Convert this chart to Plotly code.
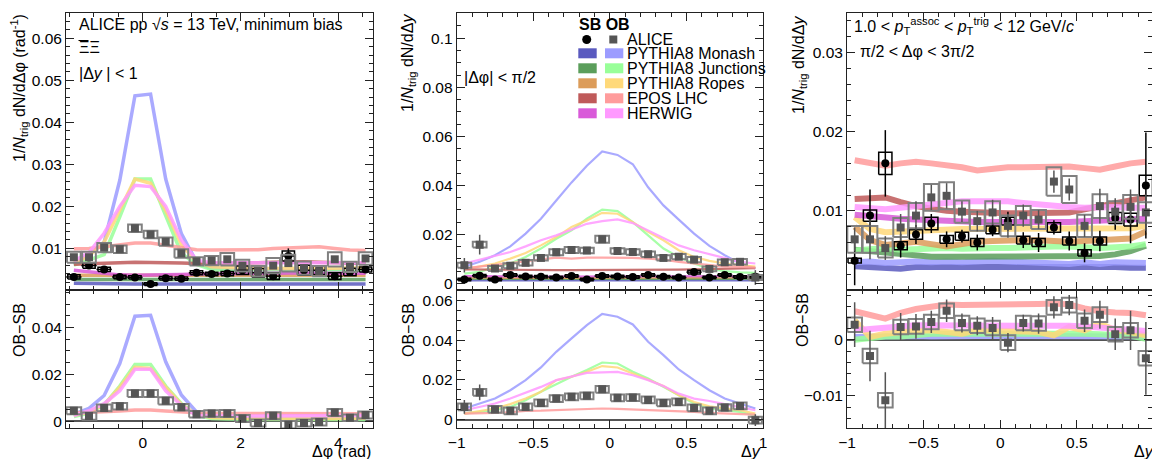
import plotly.graph_objects as go

# ---------------- data ----------------
dphi = [-1.41, -1.10, -0.79, -0.47, -0.16, 0.16, 0.47, 0.79, 1.10, 1.41,
        1.73, 2.04, 2.36, 2.67, 2.98, 3.30, 3.61, 3.93, 4.24, 4.56]
dy = [-0.95, -0.85, -0.75, -0.65, -0.55, -0.45, -0.35, -0.25, -0.15, -0.05,
      0.05, 0.15, 0.25, 0.35, 0.45, 0.55, 0.65, 0.75, 0.85, 0.95]

models = ["PYTHIA8 Monash", "PYTHIA8 Junctions", "PYTHIA8 Ropes", "EPOS LHC", "HERWIG"]
sb_colors = ["#5a5abf", "#5b9e5b", "#dc9c5a", "#bf5a5a", "#d95ad9"]
ob_colors = ["#9c9cff", "#99ff99", "#ffd97a", "#ff9c9c", "#ff99ff"]

# ---- left panel: |dy|<1, vs dphi ----
L_sb = [0.0032, 0.0059, 0.0050, 0.0032, 0.0031, 0.0015, 0.0029, 0.0028, 0.0042, 0.0039,
        0.0040, 0.0048, 0.0042, 0.0034, 0.0082, 0.0048, 0.0048, 0.0034, 0.0044, 0.0050]
L_sb_stat = [0.0003, 0.0004, 0.0004, 0.0003, 0.0003, 0.0008, 0.0003, 0.0003, 0.0003, 0.0003,
             0.0004, 0.0005, 0.0005, 0.0004, 0.0018, 0.0006, 0.0006, 0.0004, 0.0005, 0.0005]
L_sb_sys = [0.0005, 0.0006, 0.0005, 0.0004, 0.0004, 0.0003, 0.0004, 0.0004, 0.0005, 0.0004,
            0.0005, 0.0010, 0.0010, 0.0008, 0.0012, 0.0012, 0.0010, 0.0008, 0.0009, 0.0006]
L_ob = [0.0079, 0.0079, 0.0102, 0.0098, 0.0148, 0.0133, 0.0116, 0.0088, 0.0069, 0.0071,
        0.0074, 0.0059, 0.0046, 0.0059, 0.0065, 0.0053, 0.0046, 0.0074, 0.0056, 0.0076]
L_ob_stat = [0.0004, 0.0004, 0.0004, 0.0004, 0.0005, 0.0005, 0.0004, 0.0004, 0.0004, 0.0004,
             0.0005, 0.0005, 0.0005, 0.0006, 0.0007, 0.0006, 0.0006, 0.0006, 0.0006, 0.0006]
L_ob_sys = [0.0013, 0.0013, 0.0011, 0.0009, 0.0009, 0.0009, 0.0010, 0.0010, 0.0010, 0.0011,
            0.0015, 0.0014, 0.0012, 0.0018, 0.0020, 0.0016, 0.0012, 0.0017, 0.0012, 0.0015]
L_d = [0.0045, 0.0022, 0.0057, 0.0064, 0.0118, 0.0118, 0.0087, 0.0060, 0.0030, 0.0033,
       0.0033, 0.0012, -0.0007, 0.0024, -0.0015, -0.0007, -0.0003, 0.0037, 0.0015, 0.0027]
L_d_stat = [0.0005, 0.0005, 0.0005, 0.0005, 0.0006, 0.0006, 0.0005, 0.0005, 0.0005, 0.0005,
            0.0005, 0.0006, 0.0006, 0.0006, 0.0008, 0.0006, 0.0006, 0.0006, 0.0006, 0.0006]
L_d_sys = [0.0015, 0.0015, 0.0014, 0.0014, 0.0015, 0.0015, 0.0015, 0.0014, 0.0014, 0.0014,
           0.0015, 0.0015, 0.0015, 0.0015, 0.0016, 0.0015, 0.0015, 0.0015, 0.0014, 0.0015]

L_ob_models = [
    [0.0062, 0.0085, 0.0115, 0.0262, 0.0463, 0.0467, 0.0265, 0.0135, 0.0068, 0.0052,
     0.0050, 0.0048, 0.0047, 0.0047, 0.0048, 0.0048, 0.0047, 0.0048, 0.0048, 0.0050],
    [0.0060, 0.0072, 0.0085, 0.0175, 0.0265, 0.0265, 0.0180, 0.0088, 0.0062, 0.0050,
     0.0047, 0.0045, 0.0044, 0.0044, 0.0045, 0.0045, 0.0044, 0.0045, 0.0045, 0.0046],
    [0.0065, 0.0082, 0.0115, 0.0190, 0.0265, 0.0255, 0.0190, 0.0110, 0.0068, 0.0056,
     0.0054, 0.0053, 0.0052, 0.0052, 0.0053, 0.0053, 0.0052, 0.0053, 0.0053, 0.0054],
    [0.0099, 0.0100, 0.0104, 0.0108, 0.0113, 0.0113, 0.0108, 0.0103, 0.0097, 0.0096,
     0.0096, 0.0095, 0.0097, 0.0100, 0.0102, 0.0104, 0.0104, 0.0100, 0.0096, 0.0095],
    [0.0070, 0.0090, 0.0136, 0.0200, 0.0250, 0.0247, 0.0200, 0.0120, 0.0072, 0.0066,
     0.0066, 0.0066, 0.0066, 0.0066, 0.0068, 0.0068, 0.0066, 0.0066, 0.0066, 0.0066],
]
L_sb_models = [
    [0.0017, 0.0016, 0.0016, 0.0015, 0.0015, 0.0015, 0.0015, 0.0015, 0.0016, 0.0016,
     0.0016, 0.0016, 0.0016, 0.0016, 0.0016, 0.0016, 0.0016, 0.0015, 0.0015, 0.0015],
    [0.0026, 0.0026, 0.0025, 0.0025, 0.0025, 0.0025, 0.0025, 0.0025, 0.0025, 0.0025,
     0.0025, 0.0025, 0.0025, 0.0025, 0.0025, 0.0025, 0.0025, 0.0025, 0.0026, 0.0026],
    [0.0036, 0.0036, 0.0035, 0.0035, 0.0035, 0.0035, 0.0035, 0.0035, 0.0035, 0.0036,
     0.0036, 0.0036, 0.0036, 0.0036, 0.0036, 0.0036, 0.0036, 0.0036, 0.0036, 0.0036],
    [0.0062, 0.0064, 0.0065, 0.0066, 0.0067, 0.0067, 0.0066, 0.0065, 0.0064, 0.0064,
     0.0064, 0.0065, 0.0066, 0.0067, 0.0068, 0.0068, 0.0067, 0.0066, 0.0065, 0.0064],
    [0.0048, 0.0044, 0.0040, 0.0037, 0.0036, 0.0036, 0.0037, 0.0038, 0.0039, 0.0040,
     0.0040, 0.0041, 0.0041, 0.0041, 0.0042, 0.0042, 0.0041, 0.0041, 0.0041, 0.0041],
]
L_d_models = [
    [0.0030, 0.0055, 0.0110, 0.0246, 0.0448, 0.0452, 0.0254, 0.0112, 0.0040, 0.0018,
     0.0015, 0.0012, 0.0012, 0.0012, 0.0012, 0.0012, 0.0012, 0.0012, 0.0012, 0.0013],
    [0.0020, 0.0035, 0.0070, 0.0150, 0.0242, 0.0242, 0.0150, 0.0075, 0.0025, 0.0012,
     0.0010, 0.0008, 0.0008, 0.0008, 0.0008, 0.0008, 0.0008, 0.0008, 0.0008, 0.0008],
    [0.0025, 0.0040, 0.0070, 0.0145, 0.0230, 0.0225, 0.0145, 0.0072, 0.0028, 0.0016,
     0.0014, 0.0012, 0.0012, 0.0012, 0.0013, 0.0013, 0.0012, 0.0012, 0.0012, 0.0013],
    [0.0035, 0.0037, 0.0040, 0.0044, 0.0048, 0.0048, 0.0044, 0.0040, 0.0035, 0.0033,
     0.0033, 0.0033, 0.0033, 0.0034, 0.0035, 0.0035, 0.0034, 0.0034, 0.0032, 0.0032],
    [0.0024, 0.0045, 0.0075, 0.0130, 0.0222, 0.0222, 0.0130, 0.0068, 0.0025, 0.0022,
     0.0022, 0.0022, 0.0022, 0.0022, 0.0023, 0.0024, 0.0024, 0.0024, 0.0024, 0.0025],
]

# ---- middle panel: |dphi|<pi/2, vs dy ----
M_sb = [0.0016, 0.0031, 0.0016, 0.0034, 0.0028, 0.0027, 0.0024, 0.0030, 0.0016, 0.0030,
        0.0028, 0.0026, 0.0034, 0.0027, 0.0024, 0.0046, 0.0024, 0.0034, 0.0026, 0.0027]
M_sb_stat = [0.0015, 0.0005, 0.0005, 0.0005, 0.0005, 0.0005, 0.0005, 0.0005, 0.0005, 0.0005,
             0.0005, 0.0005, 0.0005, 0.0005, 0.0005, 0.0008, 0.0005, 0.0005, 0.0005, 0.0006]
M_sb_sys = [0.0005, 0.0005, 0.0005, 0.0005, 0.0005, 0.0005, 0.0005, 0.0005, 0.0005, 0.0005,
            0.0005, 0.0005, 0.0005, 0.0005, 0.0005, 0.0008, 0.0005, 0.0005, 0.0005, 0.0005]
M_ob = [0.0074, 0.0158, 0.0061, 0.0072, 0.0084, 0.0104, 0.0127, 0.0136, 0.0134, 0.0180,
        0.0132, 0.0128, 0.0119, 0.0104, 0.0109, 0.0097, 0.0059, 0.0086, 0.0088, 0.0024]
M_ob_stat = [0.0030, 0.0040, 0.0010, 0.0010, 0.0010, 0.0010, 0.0010, 0.0010, 0.0010, 0.0012,
             0.0010, 0.0010, 0.0010, 0.0010, 0.0010, 0.0010, 0.0010, 0.0010, 0.0012, 0.0030]
M_ob_sys = [0.0010, 0.0012, 0.0010, 0.0010, 0.0011, 0.0011, 0.0012, 0.0012, 0.0011, 0.0014,
            0.0011, 0.0011, 0.0011, 0.0011, 0.0011, 0.0011, 0.0010, 0.0011, 0.0011, 0.0010]
M_d = [0.0064, 0.0137, 0.0051, 0.0044, 0.0064, 0.0084, 0.0106, 0.0115, 0.0120, 0.0153,
       0.0110, 0.0111, 0.0099, 0.0084, 0.0089, 0.0059, 0.0044, 0.0061, 0.0069, -0.0003]
M_d_stat = [0.0035, 0.0040, 0.0010, 0.0010, 0.0010, 0.0010, 0.0010, 0.0010, 0.0010, 0.0012,
            0.0010, 0.0010, 0.0010, 0.0010, 0.0010, 0.0010, 0.0010, 0.0010, 0.0012, 0.0030]
M_d_sys = [0.0017, 0.0017, 0.0017, 0.0017, 0.0017, 0.0017, 0.0017, 0.0017, 0.0017, 0.0017,
           0.0017, 0.0017, 0.0017, 0.0017, 0.0017, 0.0017, 0.0017, 0.0017, 0.0017, 0.0017]

M_ob_models = [
    [0.0068, 0.0088, 0.0115, 0.0151, 0.0203, 0.0264, 0.0338, 0.0412, 0.0480, 0.0538,
     0.0524, 0.0486, 0.0392, 0.0318, 0.0260, 0.0203, 0.0153, 0.0115, 0.0081, 0.0061],
    [0.0040, 0.0047, 0.0068, 0.0081, 0.0108, 0.0142, 0.0182, 0.0216, 0.0264, 0.0301,
     0.0295, 0.0250, 0.0196, 0.0142, 0.0108, 0.0081, 0.0060, 0.0050, 0.0045, 0.0043],
    [0.0057, 0.0068, 0.0081, 0.0101, 0.0124, 0.0155, 0.0189, 0.0230, 0.0257, 0.0288,
     0.0284, 0.0250, 0.0210, 0.0176, 0.0135, 0.0108, 0.0092, 0.0081, 0.0074, 0.0068],
    [0.0061, 0.0068, 0.0074, 0.0081, 0.0088, 0.0097, 0.0105, 0.0101, 0.0105, 0.0105,
     0.0105, 0.0104, 0.0101, 0.0097, 0.0088, 0.0081, 0.0074, 0.0068, 0.0068, 0.0064],
    [0.0081, 0.0097, 0.0111, 0.0128, 0.0151, 0.0176, 0.0196, 0.0219, 0.0243, 0.0254,
     0.0261, 0.0246, 0.0216, 0.0186, 0.0155, 0.0135, 0.0119, 0.0101, 0.0088, 0.0081],
]
M_sb_models = [
    [0.0012, 0.0012, 0.0012, 0.0012, 0.0012, 0.0012, 0.0012, 0.0012, 0.0012, 0.0012,
     0.0012, 0.0012, 0.0012, 0.0012, 0.0012, 0.0012, 0.0012, 0.0012, 0.0012, 0.0012],
    [0.0018, 0.0018, 0.0018, 0.0018, 0.0018, 0.0018, 0.0018, 0.0018, 0.0018, 0.0018,
     0.0018, 0.0018, 0.0018, 0.0018, 0.0018, 0.0018, 0.0018, 0.0018, 0.0018, 0.0018],
    [0.0024, 0.0023, 0.0022, 0.0022, 0.0022, 0.0022, 0.0022, 0.0022, 0.0022, 0.0022,
     0.0022, 0.0022, 0.0022, 0.0022, 0.0022, 0.0022, 0.0022, 0.0022, 0.0023, 0.0024],
    [0.0057, 0.0056, 0.0056, 0.0055, 0.0055, 0.0054, 0.0054, 0.0054, 0.0054, 0.0053,
     0.0053, 0.0054, 0.0054, 0.0055, 0.0056, 0.0057, 0.0058, 0.0060, 0.0061, 0.0062],
    [0.0030, 0.0029, 0.0028, 0.0028, 0.0028, 0.0028, 0.0028, 0.0028, 0.0028, 0.0028,
     0.0028, 0.0028, 0.0028, 0.0028, 0.0028, 0.0028, 0.0028, 0.0028, 0.0029, 0.0030],
]
M_d_models = [
    [0.0056, 0.0081, 0.0106, 0.0148, 0.0199, 0.0263, 0.0342, 0.0410, 0.0477, 0.0533,
     0.0519, 0.0480, 0.0393, 0.0325, 0.0253, 0.0199, 0.0148, 0.0106, 0.0081, 0.0056],
    [0.0030, 0.0037, 0.0047, 0.0064, 0.0098, 0.0140, 0.0180, 0.0216, 0.0250, 0.0288,
     0.0283, 0.0241, 0.0207, 0.0165, 0.0123, 0.0081, 0.0056, 0.0047, 0.0039, 0.0022],
    [0.0030, 0.0042, 0.0056, 0.0078, 0.0106, 0.0140, 0.0199, 0.0216, 0.0241, 0.0270,
     0.0263, 0.0233, 0.0199, 0.0169, 0.0123, 0.0089, 0.0067, 0.0056, 0.0047, 0.0030],
    [0.0030, 0.0031, 0.0034, 0.0037, 0.0044, 0.0045, 0.0047, 0.0050, 0.0053, 0.0056,
     0.0054, 0.0051, 0.0050, 0.0047, 0.0042, 0.0039, 0.0034, 0.0030, 0.0028, 0.0025],
    [0.0047, 0.0064, 0.0081, 0.0106, 0.0135, 0.0165, 0.0199, 0.0216, 0.0236, 0.0238,
     0.0241, 0.0224, 0.0199, 0.0169, 0.0131, 0.0106, 0.0094, 0.0078, 0.0064, 0.0047],
]

# ---- right panel: pi/2<dphi<3pi/2, vs dy ----
R_sb = [0.0037, 0.0094, 0.0160, 0.0056, 0.0070, 0.0084, 0.0064, 0.0068, 0.0060, 0.0076,
        0.0087, 0.0063, 0.0060, 0.0079, 0.0062, 0.0047, 0.0062, 0.0091, 0.0089, 0.0132]
R_sb_stat = [0.0031, 0.0033, 0.0042, 0.0015, 0.0012, 0.0012, 0.0010, 0.0008, 0.0010, 0.0008,
             0.0012, 0.0010, 0.0012, 0.0009, 0.0012, 0.0012, 0.0013, 0.0015, 0.0030, 0.0067]
R_sb_sys = [0.0003, 0.0007, 0.0014, 0.0005, 0.0006, 0.0008, 0.0005, 0.0005, 0.0005, 0.0005,
            0.0005, 0.0005, 0.0005, 0.0006, 0.0005, 0.0004, 0.0005, 0.0007, 0.0008, 0.0013]
R_ob = [0.0064, 0.0064, 0.0053, 0.0079, 0.0094, 0.0117, 0.0119, 0.0099, 0.0087, 0.0098,
        0.0081, 0.0094, 0.0089, 0.0137, 0.0127, 0.0081, 0.0106, 0.0099, 0.0105, 0.0098]
R_ob_stat = [0.0015, 0.0025, 0.0015, 0.0017, 0.0018, 0.0016, 0.0016, 0.0013, 0.0013, 0.0016,
             0.0015, 0.0014, 0.0012, 0.0014, 0.0014, 0.0014, 0.0022, 0.0017, 0.0022, 0.0023]
R_ob_sys = [0.0017, 0.0017, 0.0012, 0.0012, 0.0016, 0.0017, 0.0017, 0.0014, 0.0012, 0.0014,
            0.0013, 0.0012, 0.0012, 0.0018, 0.0017, 0.0014, 0.0015, 0.0013, 0.0015, 0.0013]
R_d = [0.0027, -0.0029, -0.0108, 0.0023, 0.0024, 0.0032, 0.0052, 0.0030, 0.0025, 0.0021,
       -0.0005, 0.0030, 0.0029, 0.0058, 0.0062, 0.0034, 0.0045, 0.0010, 0.0017, -0.0033]
R_d_stat = [0.0040, 0.0045, 0.0050, 0.0025, 0.0022, 0.0020, 0.0020, 0.0017, 0.0017, 0.0020,
            0.0017, 0.0015, 0.0018, 0.0020, 0.0018, 0.0020, 0.0025, 0.0028, 0.0035, 0.0065]
R_d_sys = [0.0013, 0.0013, 0.0013, 0.0013, 0.0013, 0.0013, 0.0013, 0.0013, 0.0013, 0.0013,
           0.0013, 0.0013, 0.0013, 0.0013, 0.0013, 0.0013, 0.0013, 0.0013, 0.0013, 0.0013]

R_ob_models = [
    [0.0035, 0.0036, 0.0034, 0.0035, 0.0036, 0.0035, 0.0036, 0.0035, 0.0036, 0.0037,
     0.0036, 0.0035, 0.0035, 0.0034, 0.0033, 0.0035, 0.0033, 0.0035, 0.0034, 0.0034],
    [0.0050, 0.0052, 0.0053, 0.0051, 0.0052, 0.0053, 0.0053, 0.0052, 0.0053, 0.0053,
     0.0053, 0.0054, 0.0054, 0.0055, 0.0055, 0.0054, 0.0053, 0.0054, 0.0055, 0.0058],
    [0.0092, 0.0077, 0.0073, 0.0074, 0.0075, 0.0076, 0.0077, 0.0077, 0.0077, 0.0077,
     0.0077, 0.0077, 0.0077, 0.0077, 0.0077, 0.0077, 0.0077, 0.0078, 0.0078, 0.0081],
    [0.0164, 0.0160, 0.0157, 0.0160, 0.0162, 0.0160, 0.0158, 0.0155, 0.0151, 0.0153,
     0.0155, 0.0155, 0.0155, 0.0155, 0.0156, 0.0154, 0.0152, 0.0156, 0.0160, 0.0162],
    [0.0105, 0.0104, 0.0102, 0.0104, 0.0106, 0.0108, 0.0110, 0.0112, 0.0112, 0.0112,
     0.0112, 0.0110, 0.0108, 0.0106, 0.0105, 0.0104, 0.0105, 0.0105, 0.0104, 0.0104],
]
R_sb_models = [
    [0.0030, 0.0029, 0.0029, 0.0027, 0.0029, 0.0029, 0.0029, 0.0030, 0.0029, 0.0029,
     0.0030, 0.0029, 0.0029, 0.0029, 0.0030, 0.0029, 0.0029, 0.0029, 0.0028, 0.0028],
    [0.0051, 0.0049, 0.0047, 0.0045, 0.0043, 0.0042, 0.0042, 0.0042, 0.0042, 0.0042,
     0.0042, 0.0042, 0.0042, 0.0042, 0.0042, 0.0043, 0.0043, 0.0045, 0.0049, 0.0056],
    [0.0080, 0.0063, 0.0057, 0.0059, 0.0061, 0.0058, 0.0055, 0.0058, 0.0061, 0.0062,
     0.0063, 0.0063, 0.0063, 0.0062, 0.0061, 0.0062, 0.0063, 0.0064, 0.0065, 0.0074],
    [0.0115, 0.0116, 0.0117, 0.0111, 0.0106, 0.0103, 0.0100, 0.0099, 0.0098, 0.0097,
     0.0097, 0.0097, 0.0097, 0.0098, 0.0098, 0.0102, 0.0106, 0.0110, 0.0113, 0.0117],
    [0.0095, 0.0093, 0.0091, 0.0090, 0.0089, 0.0088, 0.0087, 0.0086, 0.0086, 0.0086,
     0.0086, 0.0086, 0.0086, 0.0085, 0.0086, 0.0087, 0.0088, 0.0089, 0.0089, 0.0090],
]
R_d_models = [
    [0.0005, 0.0006, 0.0006, 0.0007, 0.0007, 0.0006, 0.0007, 0.0006, 0.0007, 0.0007,
     0.0007, 0.0006, 0.0006, 0.0006, 0.0005, 0.0006, 0.0005, 0.0006, 0.0006, 0.0006],
    [0.0000, 0.0003, 0.0006, 0.0006, 0.0009, 0.0011, 0.0011, 0.0010, 0.0011, 0.0011,
     0.0011, 0.0012, 0.0012, 0.0013, 0.0013, 0.0011, 0.0010, 0.0009, 0.0007, 0.0002],
    [0.0035, 0.0005, 0.0011, 0.0014, 0.0016, 0.0017, 0.0015, 0.0011, 0.0017, 0.0017,
     0.0017, 0.0015, 0.0014, 0.0008, 0.0023, 0.0017, 0.0029, 0.0017, 0.0014, 0.0008],
    [0.0051, 0.0044, 0.0038, 0.0048, 0.0055, 0.0059, 0.0063, 0.0062, 0.0062, 0.0062,
     0.0063, 0.0063, 0.0064, 0.0065, 0.0063, 0.0056, 0.0051, 0.0049, 0.0048, 0.0044],
    [0.0017, 0.0020, 0.0022, 0.0024, 0.0026, 0.0026, 0.0027, 0.0026, 0.0026, 0.0026,
     0.0026, 0.0026, 0.0026, 0.0027, 0.0025, 0.0024, 0.0022, 0.0020, 0.0018, 0.0016],
]

# tick labels
L_top_ticks = [0.01, 0.02, 0.03, 0.04, 0.05, 0.06]
L_top_text = ["0.01", "0.02", "0.03", "0.04", "0.05", "0.06"]
L_bot_ticks = [0, 0.02, 0.04]
L_bot_text = ["0", "0.02", "0.04"]
M_top_ticks = [0, 0.02, 0.04, 0.06, 0.08, 0.1]
M_top_text = ["0", "0.02", "0.04", "0.06", "0.08", "0.1"]
M_bot_ticks = [0, 0.02, 0.04, 0.06]
M_bot_text = ["0", "0.02", "0.04", "0.06"]
R_top_ticks = [0.01, 0.02, 0.03]
R_top_text = ["0.01", "0.02", "0.03"]
R_bot_ticks = [-0.01, 0]
R_bot_text = ["\u22120.01", "0"]
phi_ticks = [0, 2, 4]
phi_text = ["0", "2", "4"]
y_ticks = [-1, -0.5, 0, 0.5, 1]
y_text = ["\u22121", "\u22120.5", "0", "0.5", "1"]

# ---------------- figure ----------------
W, H = 1152, 459
FONT = "Liberation Sans, Arial, Helvetica, sans-serif"
GRAY_M = "#555555"
GRAY_B = "#808080"
TS = 16      # annotation font size
TKS = 15.5   # tick label size


def fx(p):
    return p / W


def fy(p):
    return 1 - p / H


fig = go.Figure()


def add_line(x, y, color, width, xa, ya, opacity=0.85):
    fig.add_trace(go.Scatter(x=x, y=y, mode="lines", line=dict(color=color, width=width),
                             opacity=opacity, xaxis=xa, yaxis=ya, showlegend=False,
                             hoverinfo="skip"))


def add_points(x, y, stat, sys, hw, xerr, symbol, mcolor, bcolor, bwidth, xa, ya):
    bx, by = [], []
    for xi, yi, ei in zip(x, y, sys):
        bx += [xi - hw, xi + hw, xi + hw, xi - hw, xi - hw, None]
        by += [yi - ei, yi - ei, yi + ei, yi + ei, yi - ei, None]
    fig.add_trace(go.Scatter(x=bx, y=by, mode="lines", line=dict(color=bcolor, width=bwidth),
                             xaxis=xa, yaxis=ya, showlegend=False, hoverinfo="skip"))
    kw = {}
    if xerr:
        kw["error_x"] = dict(type="constant", value=xerr, color=mcolor, thickness=1.5, width=0)
    fig.add_trace(go.Scatter(x=x, y=y, mode="markers",
                             marker=dict(symbol=symbol, size=8, color=mcolor),
                             error_y=dict(type="data", array=stat, color=mcolor,
                                          thickness=1.5, width=0),
                             xaxis=xa, yaxis=ya, showlegend=False, hoverinfo="skip", **kw))


panels = [
    dict(x=dphi, ob_m=L_ob_models, sb_m=L_sb_models, d_m=L_d_models, lw=3.5, ax=("x", "y", "x2", "y2"),
         sb=(L_sb, L_sb_stat, L_sb_sys), ob=(L_ob, L_ob_stat, L_ob_sys), d=(L_d, L_d_stat, L_d_sys),
         hw=0.14, dhw=0.15, xerr=0.157),
    dict(x=dy, ob_m=M_ob_models, sb_m=M_sb_models, d_m=M_d_models, lw=2.2, ax=("x3", "y3", "x4", "y4"),
         sb=(M_sb, M_sb_stat, M_sb_sys), ob=(M_ob, M_ob_stat, M_ob_sys), d=(M_d, M_d_stat, M_d_sys),
         hw=0.045, dhw=0.043, xerr=0.05),
    dict(x=dy, ob_m=R_ob_models, sb_m=R_sb_models, d_m=R_d_models, lw=6, ax=("x5", "y5", "x6", "y6"),
         sb=(R_sb, R_sb_stat, R_sb_sys), ob=(R_ob, R_ob_stat, R_ob_sys), d=(R_d, R_d_stat, R_d_sys),
         hw=0.048, dhw=0.048, xerr=None),
]

for p in panels:
    xt, yt, xb, yb = p["ax"]
    for k in range(5):
        add_line(p["x"], p["sb_m"][k], sb_colors[k], p["lw"], xt, yt)
        add_line(p["x"], p["ob_m"][k], ob_colors[k], p["lw"], xt, yt)
        add_line(p["x"], p["d_m"][k], ob_colors[k], p["lw"], xb, yb)
    add_points(p["x"], p["sb"][0], p["sb"][1], p["sb"][2], p["hw"] * 0.9, p["xerr"],
               "circle", "black", "black", 1.5, xt, yt)
    add_points(p["x"], p["ob"][0], p["ob"][1], p["ob"][2], p["hw"], None,
               "square", GRAY_M, GRAY_B, 2, xt, yt)
    add_points(p["x"], p["d"][0], p["d"][1], p["d"][2], p["dhw"], None,
               "square", GRAY_M, GRAY_B, 2, xb, yb)

# axes
TOP = (fy(290), fy(13))
BOT = (fy(428.3), fy(290))
XD = [(fx(66), fx(373)), (fx(456.7), fx(763)), (fx(847), 1.0)]


def axis_common():
    return dict(showline=True, linecolor="#222222", linewidth=1, mirror="ticks",
                ticks="inside", ticklen=8, tickcolor="#222222", tickwidth=1,
                showgrid=False, zeroline=False, automargin=False,
                tickfont=dict(family=FONT, size=TKS, color="black"))


layout = dict(width=W, height=H, margin=dict(l=0, r=0, t=0, b=0, pad=0, autoexpand=False),
              paper_bgcolor="white", plot_bgcolor="white", showlegend=False)

xranges = [(-1.5708, 4.7124), (-1.0, 1.0), (-1.0, 0.99)]
xticks = [(phi_ticks, phi_text, 0.5), (y_ticks, y_text, 0.1), (y_ticks, y_text, 0.1)]
yspecs = [
    ((0.0001, 0.066), L_top_ticks, L_top_text, 0.002, (-0.003, 0.056), L_bot_ticks, L_bot_text, 0.005),
    ((-0.0027, 0.1103), M_top_ticks, M_top_text, 0.005, (-0.0044, 0.0654), M_bot_ticks, M_bot_text, 0.005),
    ((0.0, 0.035), R_top_ticks, R_top_text, 0.002, (-0.0158, 0.0089), R_bot_ticks, R_bot_text, 0.002),
]

for i in range(3):
    nt, nb = 2 * i + 1, 2 * i + 2
    sx_t = "xaxis" if nt == 1 else f"xaxis{nt}"
    sy_t = "yaxis" if nt == 1 else f"yaxis{nt}"
    sx_b, sy_b = f"xaxis{nb}", f"yaxis{nb}"
    tv, tt, mdt = xticks[i]
    minor_x = dict(ticks="inside", ticklen=4, tickcolor="#222222", dtick=mdt, tick0=0)
    layout[sx_t] = dict(axis_common(), domain=XD[i], range=xranges[i], anchor=f"y{nt}" if nt > 1 else "y",
                        tickmode="array", tickvals=tv, ticktext=tt, showticklabels=False, minor=minor_x)
    layout[sx_b] = dict(axis_common(), domain=XD[i], range=xranges[i], anchor=f"y{nb}",
                        tickmode="array", tickvals=tv, ticktext=tt, minor=minor_x)
    rt, tvt, ttt, mt, rb, tvb, ttb, mb = yspecs[i]
    layout[sy_t] = dict(axis_common(), domain=TOP, range=rt, anchor=f"x{nt}" if nt > 1 else "x",
                        tickmode="array", tickvals=tvt, ticktext=ttt,
                        minor=dict(ticks="inside", ticklen=4, tickcolor="#222222", dtick=mt, tick0=0))
    layout[sy_b] = dict(axis_common(), domain=BOT, range=rb, anchor=f"x{nb}",
                        tickmode="array", tickvals=tvb, ticktext=ttb,
                        zeroline=True, zerolinecolor="#555555", zerolinewidth=1.5,
                        minor=dict(ticks="inside", ticklen=4, tickcolor="#222222", dtick=mb, tick0=0))

fig.update_layout(**layout)

# ---------------- text ----------------
ann = []


def txt(x, y, s, xa="left", ya="middle", size=TS, angle=0):
    ann.append(dict(x=fx(x), y=fy(y), xref="paper", yref="paper", text=s, showarrow=False,
                    xanchor=xa, yanchor=ya, textangle=angle,
                    font=dict(family=FONT, size=size, color="black")))


# y titles
txt(19, 12, "1/<i>N</i><sub>trig</sub> dN/d\u0394\u03c6 (rad<sup>-1</sup>)", xa="center", ya="top", angle=-90)
txt(19, 330, "OB\u2212SB", xa="center", ya="middle", angle=-90)
txt(408, 12, "1/<i>N</i><sub>trig</sub> dN/d\u0394<i>y</i>", xa="center", ya="top", angle=-90)
txt(408, 330, "OB\u2212SB", xa="center", ya="middle", angle=-90)
txt(800, 14, "1/<i>N</i><sub>trig</sub> dN/d\u0394<i>y</i>", xa="center", ya="top", angle=-90)
txt(802, 320, "OB\u2212SB", xa="center", ya="middle", angle=-90)
# x titles
txt(373, 451, "\u0394\u03c6 (rad)", xa="right")
txt(763, 451, "\u0394<i>y</i>", xa="right")
txt(1132, 451, "\u0394<i>y</i>", xa="left")
# panel labels
txt(77, 25, "ALICE pp \u221a<i>s</i> = 13 TeV, minimum bias")
txt(77, 48, "\u039e\u039e")
txt(77, 73, "|\u0394<i>y</i> | < 1")
txt(462, 77, "|\u0394\u03c6| < \u03c0/2")
txt(852, 26, "1.0 < <i>p</i><sub>T</sub><sup>assoc</sup> < <i>p</i><sub>T</sub><sup>trig</sup> < 12 GeV/<i>c</i>")
txt(858, 52, "\u03c0/2 < \u0394\u03c6 < 3\u03c0/2")

# legend
txt(577, 25, "<b>SB OB</b>")
txt(625, 39.5, "ALICE")
shapes = []
# overline for anti-Xi
shapes.append(dict(type="line", xref="paper", yref="paper", x0=fx(78.5), x1=fx(88.5),
                   y0=fy(40.5), y1=fy(40.5), line=dict(color="black", width=1)))
shapes.append(dict(type="circle", xref="paper", yref="paper", x0=fx(582.2), x1=fx(591.2),
                   y0=fy(44), y1=fy(35), fillcolor="black", line=dict(width=0)))
shapes.append(dict(type="rect", xref="paper", yref="paper", x0=fx(609.3), x1=fx(617.3),
                   y0=fy(43.5), y1=fy(35.5), fillcolor=GRAY_M, line=dict(width=0)))
row_y = [53.3, 68.3, 83.3, 98.3, 113.3]
for k in range(5):
    yc = row_y[k]
    shapes.append(dict(type="rect", xref="paper", yref="paper", x0=fx(578.3), x1=fx(596.7),
                       y0=fy(yc + 5), y1=fy(yc - 5), fillcolor=sb_colors[k], line=dict(width=0)))
    shapes.append(dict(type="rect", xref="paper", yref="paper", x0=fx(605), x1=fx(623.3),
                       y0=fy(yc + 5), y1=fy(yc - 5), fillcolor=ob_colors[k], line=dict(width=0)))
    txt(625, yc, models[k])

fig.update_layout(annotations=ann, shapes=shapes)
fig.write_html("out.html", config={"displayModeBar": False},
               post_script="document.body.style.margin='0px';document.body.style.padding='0px';")
